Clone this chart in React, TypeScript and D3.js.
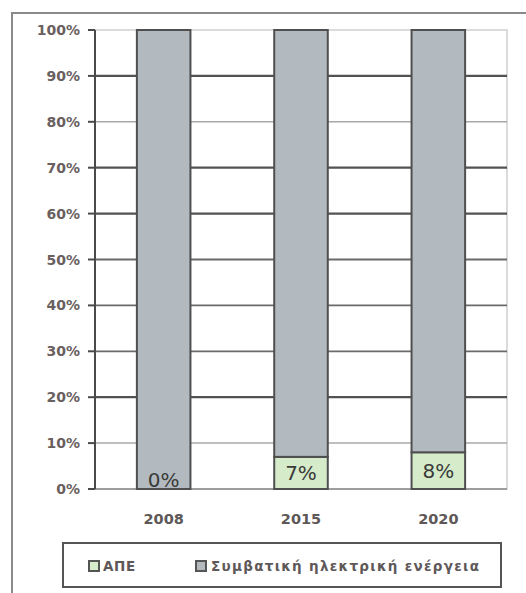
import React from "react";
import * as d3 from "d3";

const years = ["2008", "2015", "2020"];
const apeShare = [0.0, 0.07, 0.08];
const conventionalShare = [1.0, 0.93, 0.92];
const apeLabels = ["0%", "7%", "8%"];
const yTicks = [0, 0.1, 0.2, 0.3, 0.4, 0.5, 0.6, 0.7, 0.8, 0.9, 1.0];
const seriesNames = ["ΑΠΕ", "Συμβατική ηλεκτρική ενέργεια"];

const W = 526;
const H = 593;
const M = { left: 95, right: 507, top: 30, bottom: 489 };
const FONT = "'DejaVu Sans', Verdana, sans-serif";
const COLORS = { ape: "#d5ebc9", conv: "#b3babf" };
// visual strength of each gridline as seen in the reference (dark / medium / light)
const gridStroke = (v: number) => {
  const p = Math.round(v * 100);
  if ([20, 60, 70, 90].includes(p)) return { c: "#525252", w: 2.2 };
  if ([30, 40, 50].includes(p)) return { c: "#6a6a6a", w: 1.8 };
  return { c: "#a8a8a8", w: 1.5 };
};

export default function App() {
  const x = d3
    .scaleBand<string>()
    .domain(years)
    .range([M.left, M.right])
    .paddingInner(0.61)
    .paddingOuter(0.305);
  const y = d3.scaleLinear().domain([0, 1]).range([M.bottom, M.top]);

  const rows = years.map((yr, i) => ({ year: yr, ape: apeShare[i], conv: conventionalShare[i] }));
  const stacked = d3.stack<any>().keys(["ape", "conv"])(rows);

  return (
    <svg
      width={W}
      height={H}
      style={{ position: "absolute", left: 0, top: 0, background: "#fff" }}
      fontFamily={FONT}
    >
      {/* outer frame */}
      <rect x={12} y={13} width={W + 20} height={H + 20} fill="#fff" stroke="#8a8a8a" strokeWidth={2} />

      {/* plot area border */}
      <rect
        x={M.left}
        y={M.top}
        width={M.right - M.left}
        height={M.bottom - M.top}
        fill="#fff"
        stroke="#c4c4c4"
        strokeWidth={1.2}
      />

      {/* gridlines */}
      {yTicks
        .filter((t) => t > 0 && t < 1)
        .map((t) => {
          const s = gridStroke(t);
          return (
            <line key={t} x1={M.left} x2={M.right} y1={y(t)} y2={y(t)} stroke={s.c} strokeWidth={s.w} />
          );
        })}
      {/* baseline */}
      <line x1={M.left} x2={M.right} y1={y(0)} y2={y(0)} stroke="#8a8a8a" strokeWidth={1.5} />

      {/* bars */}
      {stacked.map((layer) =>
        layer.map((d, i) => (
          <rect
            key={layer.key + i}
            x={x(years[i])}
            y={y(d[1])}
            width={x.bandwidth()}
            height={y(d[0]) - y(d[1])}
            fill={layer.key === "ape" ? COLORS.ape : COLORS.conv}
            stroke="#4f4f4f"
            strokeWidth={2}
          />
        ))
      )}

      {/* data labels for ΑΠΕ */}
      {stacked[0].map((d, i) => {
        const cy = Math.min((y(d[0]) + y(d[1])) / 2, y(0) - 9);
        return (
          <text
            key={"l" + i}
            x={(x(years[i]) as number) + x.bandwidth() / 2}
            y={cy}
            dy="0.36em"
            textAnchor="middle"
            fontSize={20}
            fill="#3a3a3a"
          >
            {apeLabels[i]}
          </text>
        );
      })}

      {/* y axis */}
      <line x1={M.left} x2={M.left} y1={M.top} y2={M.bottom} stroke="#4a4a4a" strokeWidth={2} />
      {yTicks.map((t) => (
        <g key={"t" + t}>
          <line x1={M.left - 7} x2={M.left} y1={y(t)} y2={y(t)} stroke="#4a4a4a" strokeWidth={2} />
          <text
            x={80}
            y={y(t)}
            dy="0.36em"
            textAnchor="end"
            fontSize={14}
            fontWeight="bold"
            fill="#6a6060"
          >
            {d3.format(".0%")(t)}
          </text>
        </g>
      ))}

      {/* x labels */}
      {years.map((yr) => (
        <text
          key={"x" + yr}
          x={(x(yr) as number) + x.bandwidth() / 2}
          y={519}
          dy="0.36em"
          textAnchor="middle"
          fontSize={14.5}
          fontWeight="bold"
          fill="#5e5858"
        >
          {yr}
        </text>
      ))}

      {/* legend */}
      <rect x={63} y={543} width={438} height={44} fill="#fff" stroke="#555" strokeWidth={2} />
      <rect x={89} y={561} width={10} height={10} fill={COLORS.ape} stroke="#555" strokeWidth={2} />
      <text x={103} y={566} dy="0.36em" fontSize={13.5} fontWeight="bold" fill="#5e5858" letterSpacing={0.6}>
        {seriesNames[0]}
      </text>
      <rect x={196} y={561} width={10} height={10} fill={COLORS.conv} stroke="#555" strokeWidth={2} />
      <text x={211} y={566} dy="0.36em" fontSize={13.5} fontWeight="bold" fill="#5e5858" letterSpacing={1.3}>
        {seriesNames[1]}
      </text>
    </svg>
  );
}
